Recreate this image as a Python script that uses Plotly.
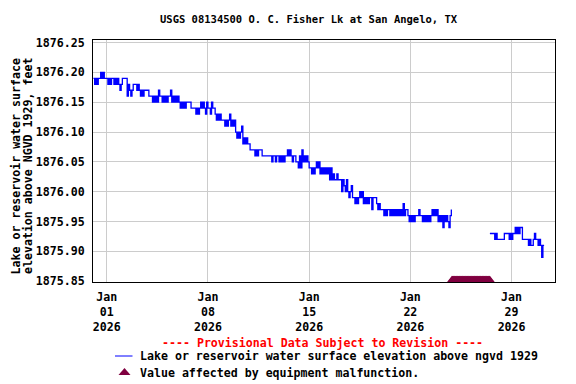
import plotly.graph_objects as go
import pandas as pd

# ---------------- data ----------------
# Lake elevation, hundredths of a foot above 1875.00, 2-hourly readings
seg1_start = "2025-12-31 02:00"
seg1_hundredths = [
    119, 118, 119, 118, 119, 119, 120, 119, 120, 119, 119, 119,
    118, 119, 118, 119, 119, 118, 119, 118, 119, 118, 117, 118,
    119, 119, 119, 119, 116, 118, 117, 116, 117, 118, 118, 118,
    117, 118, 117, 116, 117, 116, 117, 117, 117, 117, 116, 116,
    116, 115, 116, 115, 116, 115, 117, 116, 116, 115, 116, 115,
    116, 115, 116, 116, 117, 115, 116, 115, 116, 115, 116, 115,
    114, 115, 114, 115, 114, 115, 115, 115, 115, 114, 114, 114,
    114, 113, 114, 113, 114, 115, 114, 115, 114, 113, 115, 114,
    114, 113, 115, 114, 114, 113, 112, 113, 112, 113, 112, 112,
    112, 111, 112, 111, 112, 113, 111, 112, 111, 112, 110, 109,
    110, 109, 110, 111, 108, 109, 108, 109, 108, 108, 107, 107,
    107, 107, 106, 107, 106, 107, 107, 107, 106, 106, 106, 106,
    106, 106, 106, 106, 105, 106, 106, 105, 106, 106, 105, 106,
    105, 106, 105, 106, 106, 107, 106, 107, 106, 105, 106, 106,
    105, 105, 104, 106, 104, 107, 105, 106, 105, 106, 105, 104,
    104, 103, 104, 103, 104, 105, 104, 105, 103, 104, 103, 104,
    103, 104, 103, 104, 102, 104, 102, 103, 102, 102, 103, 102,
    102, 102, 100, 102, 101, 100, 102, 100, 99, 100, 101, 99,
    99, 98, 99, 98, 99, 100, 99, 100, 98, 99, 98, 99,
    98, 99, 99, 97, 99, 99, 99, 98, 97, 98, 97, 97,
    97, 96, 97, 96, 97, 97, 96, 97, 96, 97, 96, 97,
    96, 97, 96, 97, 96, 98, 96, 97, 97, 96, 95, 96,
    95, 96, 95, 96, 96, 96, 97, 96, 96, 95, 96, 95,
    96, 95, 96, 95, 96, 97, 96, 97, 96, 97, 95, 96,
    95, 96, 94, 96, 95, 96, 95, 94, 96, 97,
]
seg2_start = "2026-01-27 12:00"
seg2_hundredths = [
    93, 93, 93, 93, 92, 93, 92, 92, 92, 92, 92, 92,
    93, 93, 93, 93, 92, 93, 92, 93, 93, 94, 93, 94,
    93, 94, 94, 92, 92, 92, 92, 92, 91, 92, 91, 91,
    92, 93, 92, 92, 91, 92, 91, 89, 91, 91,
]
base_elev = 1875.00
malfunction_start = "2026-01-24 21:00"
malfunction_end = "2026-01-27 12:00"
malfunction_elev = 1875.8515

tick_dates = ["2026-01-01", "2026-01-08", "2026-01-15", "2026-01-22", "2026-01-29"]
tick_labels = ["Jan<br>01<br>2026", "Jan<br>08<br>2026", "Jan<br>15<br>2026",
               "Jan<br>22<br>2026", "Jan<br>29<br>2026"]
y_ticks = [1875.85, 1875.90, 1875.95, 1876.00, 1876.05, 1876.10, 1876.15, 1876.20, 1876.25]

# ---------------- build ----------------
t1 = pd.date_range(seg1_start, periods=len(seg1_hundredths), freq="2h")
t2 = pd.date_range(seg2_start, periods=len(seg2_hundredths), freq="2h")
v1 = [base_elev + h / 100 for h in seg1_hundredths]
v2 = [base_elev + h / 100 for h in seg2_hundredths]
xs = list(t1) + [None] + list(t2)
ys = v1 + [None] + v2
tm = pd.date_range(malfunction_start, malfunction_end, freq="1h")

# the page body adds an 8px offset; work in page pixels and subtract it
OFF = 8
W, H = 576 - OFF, 384 - OFF
L, R, T, B = 93 - OFF, 555 - OFF, 40 - OFF, 282 - OFF


def px2x(px):
    return (px - OFF - L) / (R - L)


def px2y(py):
    return (B - (py - OFF)) / (B - T)


FONT = "DejaVu Sans Mono"
fs = 11.6

fig = go.Figure()
fig.add_trace(go.Scatter(
    x=xs, y=ys, mode="lines", line=dict(color="#0000FF", width=1.3, shape="hv"),
    connectgaps=False, showlegend=False, hoverinfo="skip"))
fig.add_trace(go.Scatter(
    x=list(tm), y=[malfunction_elev] * len(tm), mode="markers",
    marker=dict(symbol="triangle-up", size=9, color="#800040", line=dict(width=0)),
    cliponaxis=False, showlegend=False, hoverinfo="skip"))

fig.update_layout(
    width=W, height=H,
    margin=dict(l=L, r=W - R, t=T, b=H - B, pad=0),
    paper_bgcolor="white", plot_bgcolor="white",
    font=dict(family=FONT, size=fs, color="black", weight="bold"),
    showlegend=False,
)
fig.update_xaxes(
    range=["2025-12-31 01:16", "2026-02-01 00:04"],
    tickvals=tick_dates, ticktext=tick_labels,
    showgrid=True, gridcolor="#CCCCCC", gridwidth=1,
    showline=True, linecolor="black", linewidth=1, mirror=True,
    ticks="", zeroline=False,
    tickfont=dict(family=FONT, size=fs, color="black", weight="bold"),
    ticklabelstandoff=4,
)
fig.update_yaxes(
    range=[1875.8487, 1876.2542],
    tickvals=y_ticks, ticktext=[f"{v:.2f}" for v in y_ticks],
    showgrid=True, gridcolor="#CCCCCC", gridwidth=1,
    showline=True, linecolor="black", linewidth=1, mirror=True,
    ticks="", zeroline=False,
    tickfont=dict(family=FONT, size=fs, color="black", weight="bold"),
    ticklabelstandoff=5,
)

ann = []
ann.append(dict(text="USGS 08134500 O. C. Fisher Lk at San Angelo, TX",
                x=px2x(309), y=px2y(19), xref="paper", yref="paper",
                xanchor="center", yanchor="middle", showarrow=False,
                font=dict(family=FONT, size=10.5, color="black", weight="bold")))
ann.append(dict(text="Lake or reservoir water surface",
                x=px2x(15), y=px2y(166.5), xref="paper", yref="paper",
                xanchor="center", yanchor="middle", showarrow=False, textangle=-90,
                font=dict(family=FONT, size=fs, color="black", weight="bold")))
ann.append(dict(text="elevation above NGVD 1929, feet",
                x=px2x(27.5), y=px2y(166.5), xref="paper", yref="paper",
                xanchor="center", yanchor="middle", showarrow=False, textangle=-90,
                font=dict(family=FONT, size=fs, color="black", weight="bold")))
ann.append(dict(text="---- Provisional Data Subject to Revision ----",
                x=px2x(322), y=px2y(343), xref="paper", yref="paper",
                xanchor="center", yanchor="middle", showarrow=False,
                font=dict(family=FONT, size=fs, color="#FF0000", weight="bold")))
ann.append(dict(text="Lake or reservoir water surface elevation above ngvd 1929",
                x=px2x(138), y=px2y(356), xref="paper", yref="paper",
                xanchor="left", yanchor="middle", showarrow=False,
                font=dict(family=FONT, size=fs, color="black", weight="bold")))
ann.append(dict(text="Value affected by equipment malfunction.",
                x=px2x(138), y=px2y(373), xref="paper", yref="paper",
                xanchor="left", yanchor="middle", showarrow=False,
                font=dict(family=FONT, size=fs, color="black", weight="bold")))
fig.update_layout(annotations=ann)

shapes = []
shapes.append(dict(type="line", xref="paper", yref="paper",
                   x0=px2x(115), x1=px2x(132.5), y0=px2y(356), y1=px2y(356),
                   line=dict(color="#0000FF", width=1)))
shapes.append(dict(type="path", xref="paper", yref="paper",
                   path=(f"M {px2x(118.5)} {px2y(375)} L {px2x(130.5)} {px2y(375)} "
                         f"L {px2x(124.5)} {px2y(368)} Z"),
                   fillcolor="#800040", line=dict(width=0)))
fig.update_layout(shapes=shapes)

fig.write_html("out.html")
